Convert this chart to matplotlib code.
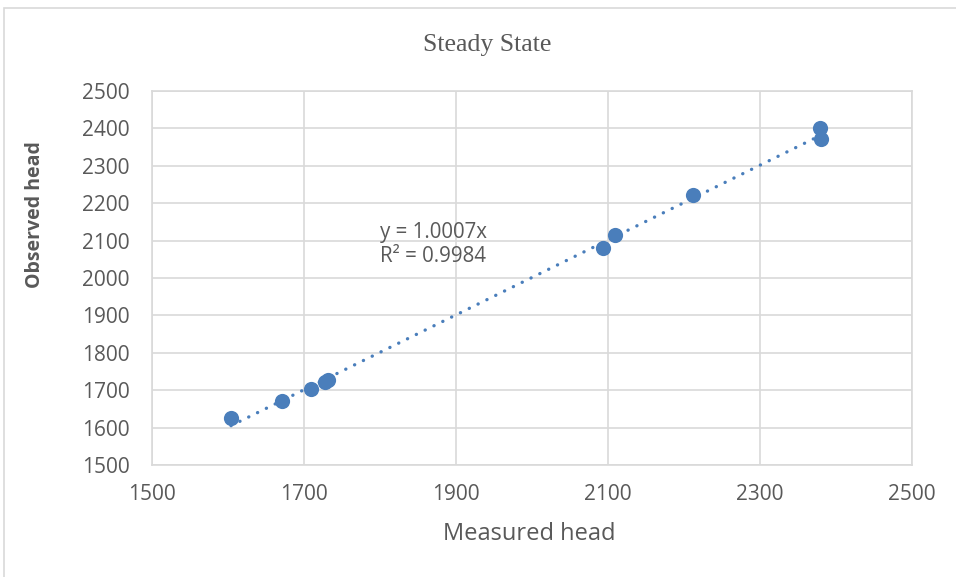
import matplotlib
matplotlib.use("Agg")
import matplotlib.pyplot as plt
import numpy as np
from matplotlib.patches import Rectangle

# measured vs observed head, steady state run
measured = [1604, 1671, 1709, 1728, 1732, 2093, 2109, 2212, 2379, 2380]
observed = [1626, 1671, 1703, 1722, 1728, 2080, 2115, 2222, 2401, 2372]
slope = 1.0007
r2 = 0.9984

blue = '#4a7ebb'
grey = '#595959'

fig = plt.figure(figsize=(9.56, 5.77), dpi=100)
fig.patches.append(Rectangle((4/956, -0.05), 1.1, 1 - 8/577 + 0.05, transform=fig.transFigure,
                             fill=False, edgecolor='#d9d9d9', linewidth=1.2))

ax = fig.add_axes([152/956, 1 - 465/577, 760/956, 374/577])

ax.scatter(measured, observed, s=120, color=blue, zorder=3, linewidths=0)

# trendline forced through the origin, drawn over the data range
xs = np.array([min(measured), max(measured)])
ax.plot(xs, slope * xs, color=blue, linewidth=2.4, linestyle=(0, (0.05, 2.9)),
        dash_capstyle='round', zorder=2)

ax.text(1800, 2150, f'y = {slope:.4f}x\nR² = {r2:.4f}', fontsize=14.8, color=grey,
        family='Open Sans', va='top', linespacing=1.2)

ax.set_xlim(1500, 2500)
ax.set_ylim(1500, 2500)
ax.set_xticks(range(1500, 2501, 200))
ax.set_yticks(range(1500, 2501, 100))
ax.grid(True, color='#d9d9d9', linewidth=1.2)
ax.set_axisbelow(True)
for s in ax.spines.values():
    s.set_color('#d9d9d9')
    s.set_linewidth(1.2)
ax.tick_params(length=0, labelsize=15, labelcolor=grey)
ax.tick_params(axis='y', pad=16)
ax.tick_params(axis='x', pad=14)
for lab in ax.get_xticklabels() + ax.get_yticklabels():
    lab.set_family('Open Sans')

fig.text(529/956, 1 - 534/577, 'Measured head', fontsize=17, color=grey,
         family='Open Sans', ha='center', va='center')
fig.text(35/956, 1 - 215/577, 'Observed head', fontsize=14, color=grey,
         family='Open Sans', fontweight='bold', rotation=90, ha='center', va='center')
fig.text(487/956, 1 - 45/577, 'Steady State', fontsize=18.5, color=grey,
         family='Liberation Serif', ha='center', va='center')

fig.savefig('out.png', dpi=100)
